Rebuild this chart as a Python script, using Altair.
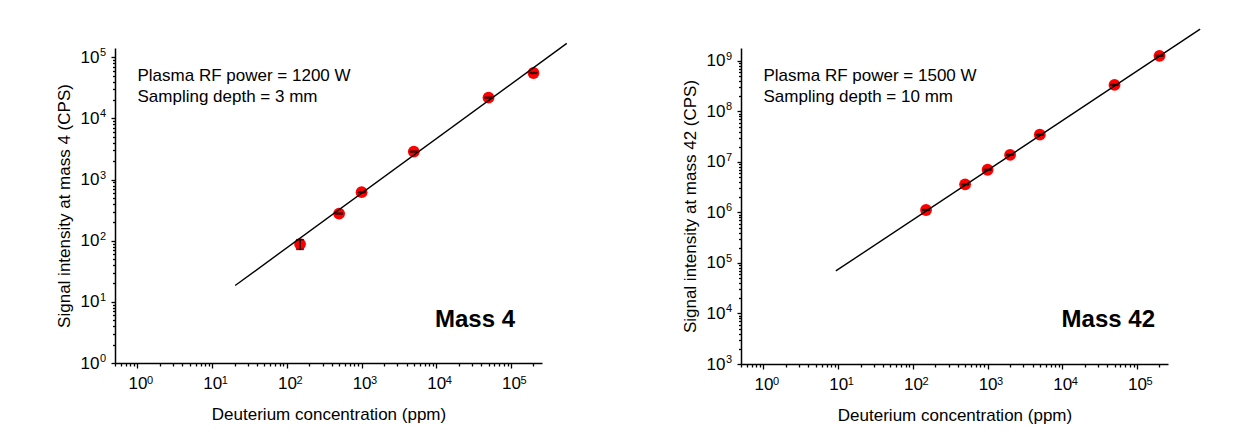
import altair as alt
import pandas as pd

# ---------------- data ----------------
conc_m4 = [150, 500, 1000, 5000, 50000, 200000]
sig_m4 = [88, 278, 623, 2870, 21900, 55400]
err_m4 = [16, 5, 11, 50, 380, 950]
fit_x_m4 = [20.3, 558000]
fit_y_m4 = [18.5, 169000]

conc_m42 = [150, 500, 1000, 2000, 5000, 50000, 200000]
sig_m42 = [1.12e6, 3.6e6, 7.0e6, 1.38e7, 3.47e7, 3.35e8, 1.26e9]
err_m42 = [2.0e4, 6.0e4, 1.2e5, 2.4e5, 6.0e5, 5.8e6, 2.2e7]
fit_x_m42 = [9.3, 700000]
fit_y_m42 = [69500, 4.25e9]

x_major = [1, 10, 100, 1000, 10000, 100000]
y_major_m4 = [1, 10, 100, 1000, 10000, 100000]
y_major_m42 = [1e3, 1e4, 1e5, 1e6, 1e7, 1e8, 1e9]
x_exponents = ["0", "1", "2", "3", "4", "5"]
y_exponents_m4 = ["0", "1", "2", "3", "4", "5"]
y_exponents_m42 = ["3", "4", "5", "6", "7", "8", "9"]

x_domain = [0.5, 260000]
y_domain_m4 = [1, 142000]
y_domain_m42 = [1000, 1.8e9]

notes_m4 = ["Plasma RF power = 1200 W", "Sampling depth = 3 mm"]
notes_m42 = ["Plasma RF power = 1500 W", "Sampling depth = 10 mm"]
tags = ["Mass 4", "Mass 42"]

x_title = "Deuterium concentration (ppm)"
y_title_m4 = "Signal intensity at mass 4 (CPS)"
y_title_m42 = "Signal intensity at mass 42 (CPS)"

FONT = "Arial, Liberation Sans, sans-serif"
W, H4, H42 = 427, 315, 316


def minor_ticks(lo, hi):
    out = []
    for e in range(-1, 10):
        for m in range(2, 10):
            v = m * 10.0 ** e
            if lo <= v <= hi:
                out.append(round(v, 6))
    return out


def panel(conc, sig, err, fx, fy, ydom, ymaj, yexp, ytitle, notes, tag, tag_x, H):
    df = pd.DataFrame({"c": conc, "s": sig, "lo": [a - b for a, b in zip(sig, err)],
                       "hi": [a + b for a, b in zip(sig, err)]})
    fit = pd.DataFrame({"x": fx, "y": fy})
    xs = alt.Scale(type="log", domain=x_domain, nice=False)
    ys = alt.Scale(type="log", domain=ydom, nice=False)

    x_major_axis = alt.Axis(values=x_major, labelExpr="'10'", tickSize=5, orient="bottom",
                            grid=False, title=x_title, titlePadding=15, labelPadding=7,
                            labelFlush=False, labelOverlap=False)
    y_major_axis = alt.Axis(values=ymaj, labelExpr="'10'", tickSize=4, orient="left",
                            grid=False, title=ytitle, titlePadding=7, labelPadding=12,
                            labelFlush=False, labelOverlap=False)
    x_minor_axis = alt.Axis(values=minor_ticks(*x_domain), labels=False, tickSize=3, orient="bottom",
                            grid=False, title=None, domain=False)
    y_minor_axis = alt.Axis(values=minor_ticks(*ydom), labels=False, tickSize=2.5, orient="left",
                            grid=False, title=None, domain=False)

    pts = alt.Chart(df).mark_circle(size=140, color="#ff0000", opacity=1).encode(
        x=alt.X("c:Q", scale=xs, axis=x_major_axis),
        y=alt.Y("s:Q", scale=ys, axis=y_major_axis),
    )
    line = alt.Chart(fit).mark_line(color="black", strokeWidth=1.4, clip=False).encode(
        x=alt.X("x:Q", scale=xs, axis=x_minor_axis),
        y=alt.Y("y:Q", scale=ys, axis=y_minor_axis),
    )
    bar = alt.Chart(df).mark_rule(color="black", strokeWidth=1.5).encode(
        x=alt.X("c:Q", scale=xs, axis=None),
        y=alt.Y("lo:Q", scale=ys, axis=None),
        y2="hi:Q",
    )
    cap_lo = alt.Chart(df).mark_tick(color="black", thickness=1.5, size=8, orient="horizontal").encode(
        x=alt.X("c:Q", scale=xs, axis=None),
        y=alt.Y("lo:Q", scale=ys, axis=None),
    )
    cap_hi = alt.Chart(df).mark_tick(color="black", thickness=1.5, size=8, orient="horizontal").encode(
        x=alt.X("c:Q", scale=xs, axis=None),
        y=alt.Y("hi:Q", scale=ys, axis=None),
    )
    # superscript exponents of the tick labels
    xe = alt.Chart(pd.DataFrame({"v": x_major, "e": x_exponents})).mark_text(
        align="left", baseline="middle", fontSize=11, font=FONT, color="black", dx=9.5).encode(
        x=alt.X("v:Q", scale=xs, axis=None), y=alt.value(H + 17.5), text="e:N")
    ye = alt.Chart(pd.DataFrame({"v": ymaj, "e": yexp})).mark_text(
        align="left", baseline="middle", fontSize=11, font=FONT, color="black", dy=-4).encode(
        y=alt.Y("v:Q", scale=ys, axis=None), x=alt.value(-15), text="e:N")
    n1 = alt.Chart(pd.DataFrame({"t": [notes[0]]})).mark_text(
        align="left", baseline="middle", fontSize=17, font=FONT, color="black").encode(
        x=alt.value(22.5), y=alt.value(28), text="t:N")
    n2 = alt.Chart(pd.DataFrame({"t": [notes[1]]})).mark_text(
        align="left", baseline="middle", fontSize=17, font=FONT, color="black").encode(
        x=alt.value(22.5), y=alt.value(49), text="t:N")
    tg = alt.Chart(pd.DataFrame({"t": [tag]})).mark_text(
        align="right", baseline="middle", fontSize=24, fontWeight="bold", font=FONT, color="black").encode(
        x=alt.value(tag_x), y=alt.value(272), text="t:N")

    return alt.layer(pts, line, bar, cap_lo, cap_hi, xe, ye, n1, n2, tg).resolve_axis(
        x="independent", y="independent").properties(width=W, height=H)


left = panel(conc_m4, sig_m4, err_m4, fit_x_m4, fit_y_m4, y_domain_m4, y_major_m4, y_exponents_m4,
             y_title_m4, notes_m4, tags[0], 400, H4)
right = panel(conc_m42, sig_m42, err_m42, fit_x_m42, fit_y_m42, y_domain_m42, y_major_m42, y_exponents_m42,
              y_title_m42, notes_m42, tags[1], 414, H42)

chart = alt.hconcat(left, right, spacing=199, bounds="flush").properties(
    padding={"left": 55, "top": 26, "right": 10, "bottom": 5},
    background="white",
).configure_view(stroke=None).configure_axis(
    labelFont=FONT, titleFont=FONT, labelFontSize=17, titleFontSize=17,
    titleFontWeight="normal", labelColor="black", titleColor="black",
    domainColor="black", tickColor="black", domainWidth=1.5, tickWidth=1.3,
)

chart.save("out.html", embed_options={"renderer": "svg", "actions": False})
